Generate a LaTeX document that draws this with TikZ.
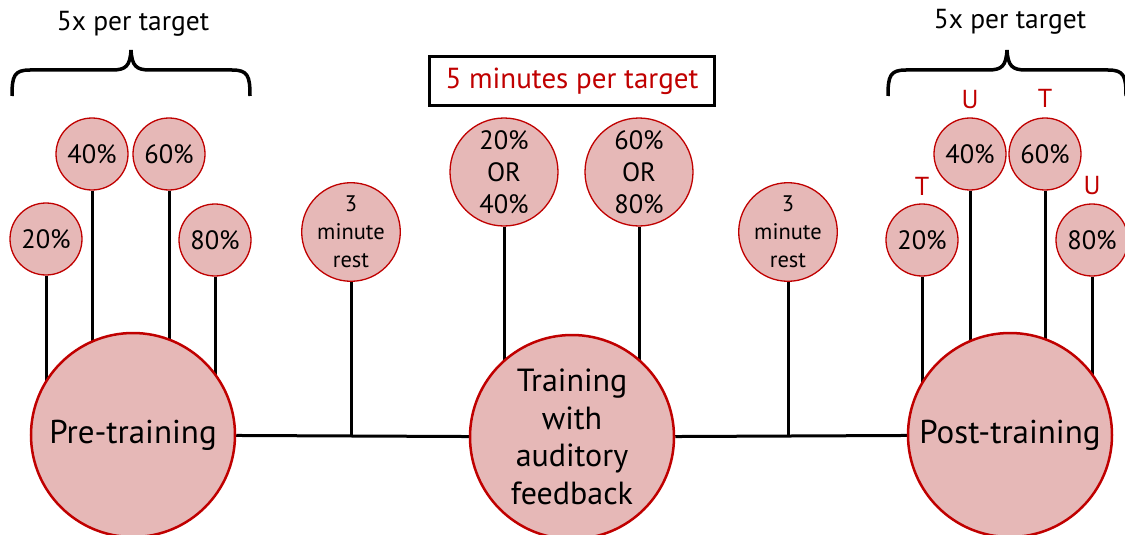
\documentclass[tikz,border=0pt]{standalone}
\usepackage{fontspec}
\setmainfont{PT Sans}
\usetikzlibrary{backgrounds}
\definecolor{pinkfill}{HTML}{E6B8B7}
\definecolor{darkred}{HTML}{C00000}
\tikzset{
  bigc/.style={circle,draw=darkred,fill=pinkfill,line width=2.5pt,minimum size=204pt,inner sep=0pt,align=center},
  smallc/.style={circle,draw=darkred,fill=pinkfill,line width=1.3pt,minimum size=72pt,inner sep=0pt,font=\fontsize{26.5}{28}\selectfont},
  midc/.style={circle,draw=darkred,fill=pinkfill,line width=1.3pt,minimum size=108pt,inner sep=0pt,align=center,font=\fontsize{26.5}{32}\selectfont},
  restc/.style={circle,draw=darkred,fill=pinkfill,line width=1.3pt,minimum size=97pt,inner sep=0pt,align=center,font=\fontsize{22.5}{28}\selectfont},
  conn/.style={draw=black,line width=3pt},
  bracestyle/.style={draw=black,line width=3.5pt},
  lbl/.style={font=\fontsize{27.5}{30}\selectfont},
  redlbl/.style={text=darkred,font=\fontsize{26}{30}\selectfont},
}
\begin{document}
\begin{tikzpicture}[x=1pt,y=-1pt]
\useasboundingbox (0,0) rectangle (1125,535);
% big nodes
\node[bigc,font=\fontsize{33}{38}\selectfont] (pre) at (133,435) {Pre-training};
\node[bigc,font=\fontsize{32}{37.5}\selectfont] (train) at (572,437) {Training\\with\\auditory\\feedback};
\node[bigc,font=\fontsize{33}{38}\selectfont] (post) at (1010,435) {Post-training};
% left small
\node[smallc] (a20) at (46,239) {20\%};
\node[smallc] (a40) at (92,154) {40\%};
\node[smallc] (a60) at (169,154) {60\%};
\node[smallc] (a80) at (215,240) {80\%};
% rest
\node[restc] (rest1) at (351,232) {3\\minute\\rest};
\node[restc] (rest2) at (788,232) {3\\minute\\rest};
% middle
\node[midc] (m1) at (504,172) {20\%\\OR\\40\%};
\node[midc] (m2) at (639,172) {60\%\\OR\\80\%};
\node[draw=black,line width=3pt,minimum width=285pt,minimum height=48pt,inner sep=0pt,text=darkred,font=\fontsize{29}{30}\selectfont] (box) at (572,81) {5 minutes per target};
% right small
\node[smallc] (b20) at (922,240) {20\%};
\node[smallc] (b40) at (970,154) {40\%};
\node[smallc] (b60) at (1045,154) {60\%};
\node[smallc] (b80) at (1092,240) {80\%};
\node[redlbl] (tb20) at (922,186) {T};
\node[redlbl] (ub40) at (970,100) {U};
\node[redlbl] (tb60) at (1045,98) {T};
\node[redlbl] (ub80) at (1092,186) {U};
% titles
\node[lbl] (t1) at (133,24) {5x per target};
\node[lbl] (t2) at (1010,22) {5x per target};
% braces
\draw[bracestyle] (12,96) .. controls (12,76) and (14,70) .. (30,70) -- (112,70) .. controls (126,70) and (130,66) .. (131,50) .. controls (132,66) and (136,70) .. (150,70) -- (232,70) .. controls (248,70) and (250,76) .. (250,96);
\draw[bracestyle] (888,96) .. controls (888,76) and (890,70) .. (906,70) -- (988,70) .. controls (1002,70) and (1006,66) .. (1007,50) .. controls (1008,66) and (1012,70) .. (1026,70) -- (1108,70) .. controls (1124,70) and (1126,76) .. (1126,96);
% connectors
\begin{pgfonlayer}{background}
\draw[conn] (pre) -- (train) -- (post);
\draw[conn] (a20.south) -- (a20.south |- pre.center);
\draw[conn] (a40.south) -- (a40.south |- pre.center);
\draw[conn] (a60.south) -- (a60.south |- pre.center);
\draw[conn] (a80.south) -- (a80.south |- pre.center);
\draw[conn] (rest1.south) -- (rest1.south |- pre.center);
\draw[conn] (rest2.south) -- (rest2.south |- post.center);
\draw[conn] (m1.south) -- (m1.south |- train.center);
\draw[conn] (m2.south) -- (m2.south |- train.center);
\draw[conn] (b20.south) -- (b20.south |- post.center);
\draw[conn] (b40.south) -- (b40.south |- post.center);
\draw[conn] (b60.south) -- (b60.south |- post.center);
\draw[conn] (b80.south) -- (b80.south |- post.center);
\end{pgfonlayer}
\end{tikzpicture}
\end{document}
